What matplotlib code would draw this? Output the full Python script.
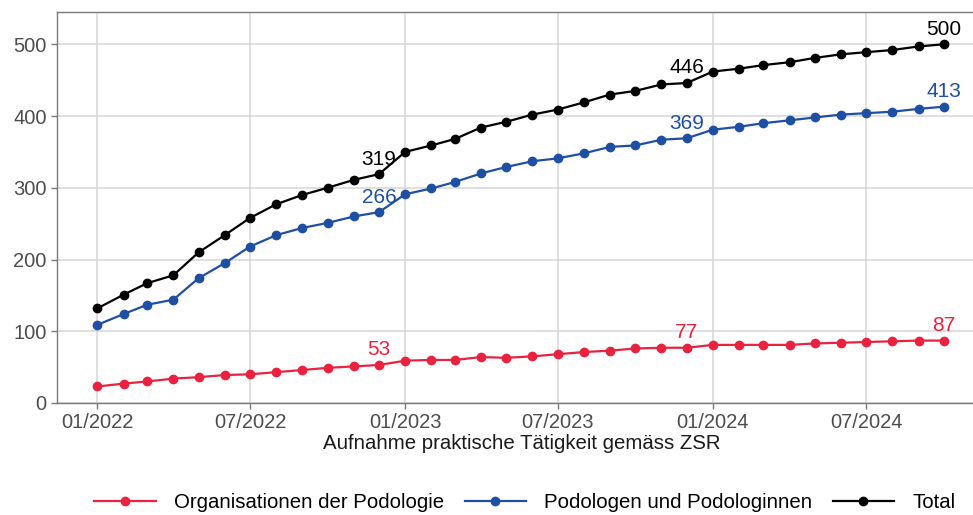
import pandas as pd
import matplotlib
matplotlib.use("Agg")
import matplotlib.pyplot as plt
import matplotlib.dates as mdates

# monatliche Werte 01/2022 - 10/2024
monate = pd.date_range("2022-01-01", "2024-10-01", freq="MS")

organisationen = [23, 27, 30, 34, 36, 39, 40, 43, 46, 49, 51, 53,
                  59, 60, 60, 64, 63, 65, 68, 71, 73, 76, 77, 77,
                  81, 81, 81, 81, 83, 84, 85, 86, 87, 87]
podologen = [109, 124, 137, 144, 174, 195, 218, 234, 244, 251, 260, 266,
             291, 299, 308, 320, 329, 337, 341, 348, 357, 359, 367, 369,
             381, 385, 390, 394, 398, 402, 404, 406, 410, 413]
total = [132, 151, 167, 178, 210, 234, 258, 277, 290, 300, 311, 319,
         350, 359, 368, 384, 392, 402, 409, 419, 430, 435, 444, 446,
         462, 466, 471, 475, 481, 486, 489, 492, 497, 500]

# welche Punkte beschriftet werden (Dezember + letzter Monat)
label_idx = [11, 23, 33]

serien = [
    ("Organisationen der Podologie", organisationen, "#E8223F"),
    ("Podologen und Podologinnen", podologen, "#1F4FA3"),
    ("Total", total, "#000000"),
]

plt.rcParams["font.family"] = ["Liberation Sans", "DejaVu Sans"]

W, H = 973, 515
fig = plt.figure(figsize=(W / 100, H / 100), dpi=100)
# Panel geht rechts ueber den Bildrand hinaus (wie im Original abgeschnitten)
ax = fig.add_axes([57 / W, 1 - 403 / H, (986 - 57) / W, (403 - 12) / H])

for name, werte, farbe in serien:
    ax.plot(monate, werte, color=farbe, lw=1.6, marker="o", ms=6, label=name)
    for i in label_idx:
        ax.annotate(str(werte[i]), (monate[i], werte[i]), xytext=(0, 4),
                    textcoords="offset points", ha="center", va="bottom",
                    color=farbe, fontsize=15)

start = pd.Timestamp("2022-01-01")
ax.set_xlim(start - pd.Timedelta(days=48), pd.Timestamp("2024-10-01") + pd.Timedelta(days=50))
ax.set_ylim(0, 545)
ax.set_yticks([0, 100, 200, 300, 400, 500])
ax.xaxis.set_major_locator(mdates.MonthLocator(bymonth=[1, 7]))
ax.xaxis.set_major_formatter(mdates.DateFormatter("%m/%Y"))

ax.grid(True, color="#d6d6d6", lw=1.1)
ax.set_axisbelow(True)
for s in ax.spines.values():
    s.set_color("#7a7a7a")
    s.set_linewidth(1.0)
ax.tick_params(colors="#7a7a7a", labelcolor="#4d4d4d", labelsize=14.5, length=4, width=1)

ax.set_xlabel("Aufnahme praktische Tätigkeit gemäss ZSR", fontsize=14.7, color="#1a1a1a", labelpad=1)

handles, labels = ax.get_legend_handles_labels()
fig.legend(handles, labels, loc="center", bbox_to_anchor=(525 / W, 1 - 503 / H),
           ncol=3, frameon=False, fontsize=14.7, handlelength=3.0, columnspacing=1.0,
           handletextpad=0.9)

fig.savefig("out.png", dpi=100)
